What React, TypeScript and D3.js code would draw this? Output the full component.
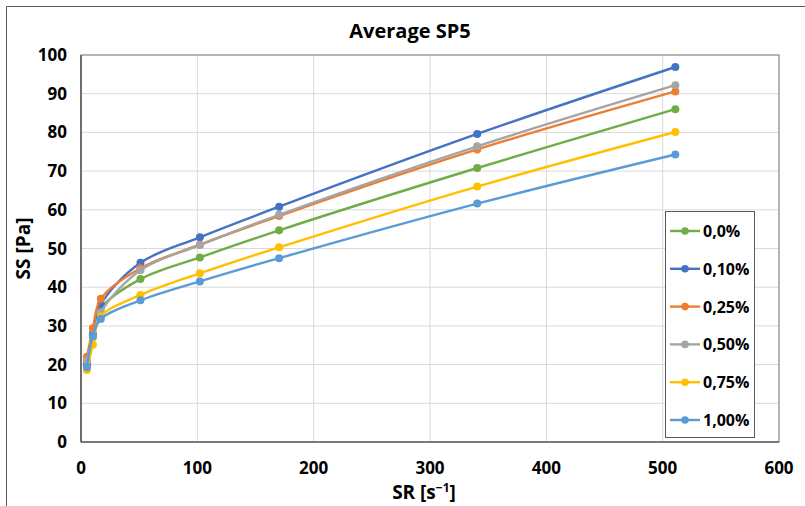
import React from "react";
import * as d3 from "d3";

// Shear rates [1/s] for the viscometer speeds
const shearRates = [5.11, 10.22, 17.03, 51.1, 102.2, 170.3, 340.6, 510.9];

const seriesNames = ["0,0%", "0,10%", "0,25%", "0,50%", "0,75%", "1,00%"];
const seriesColors = ["#70AD47", "#4472C4", "#ED7D31", "#A5A5A5", "#FFC000", "#5B9BD5"];

// Shear stress [Pa] per additive concentration
const ss000 = [20.5, 27.5, 34.5, 42.1, 47.7, 54.7, 70.8, 86.0];
const ss010 = [20.0, 28.0, 35.5, 46.3, 52.9, 60.8, 79.6, 96.9];
const ss025 = [22.0, 29.4, 37.0, 44.9, 51.0, 58.4, 75.6, 90.6];
const ss050 = [21.0, 27.0, 33.5, 44.4, 50.9, 58.7, 76.4, 92.2];
const ss075 = [18.6, 25.1, 32.4, 38.0, 43.6, 50.3, 66.0, 80.1];
const ss100 = [19.3, 27.4, 31.8, 36.6, 41.5, 47.5, 61.6, 74.3];
const seriesValues = [ss000, ss010, ss025, ss050, ss075, ss100];

const xTicks = [0, 100, 200, 300, 400, 500, 600];
const yTicks = [0, 10, 20, 30, 40, 50, 60, 70, 80, 90, 100];

const W = 805;
const H = 506;
const plot = { left: 81, right: 779, top: 55, bottom: 442 };
const font = "'Open Sans', 'Noto Sans', sans-serif";

export default function App() {
  const x = d3.scaleLinear().domain([0, 600]).range([plot.left, plot.right]);
  const y = d3.scaleLinear().domain([0, 100]).range([plot.bottom, plot.top]);
  const line = d3
    .line<[number, number]>()
    .x((d) => x(d[0]))
    .y((d) => y(d[1]))
    .curve(d3.curveCatmullRom.alpha(0.5));

  const legend = { x: 665, y: 211, w: 89, h: 226, step: 37.8 };

  return (
    <svg
      width={W}
      height={H}
      style={{ position: "absolute", left: 0, top: 0, background: "#fff" }}
      fontFamily={font}
    >
      {/* chart frame */}
      <line x1={6.5} y1={6.5} x2={W} y2={6.5} stroke="#595959" strokeWidth={1} />
      <line x1={6.5} y1={6.5} x2={6.5} y2={H} stroke="#595959" strokeWidth={1} />

      <text x={410} y={38} textAnchor="middle" fontSize={20} fontWeight="bold" fill="#000">
        Average SP5
      </text>

      {/* grid */}
      {yTicks.map((t) => (
        <line key={"gy" + t} x1={plot.left} x2={plot.right} y1={y(t)} y2={y(t)} stroke="#d9d9d9" />
      ))}
      {xTicks.map((t) => (
        <line key={"gx" + t} x1={x(t)} x2={x(t)} y1={plot.top} y2={plot.bottom} stroke="#d9d9d9" />
      ))}
      <rect
        x={plot.left}
        y={plot.top}
        width={plot.right - plot.left}
        height={plot.bottom - plot.top}
        fill="none"
        stroke="#7f7f7f"
      />
      <line x1={plot.left} x2={plot.left} y1={plot.top} y2={plot.bottom} stroke="#404040" strokeWidth={1.2} />
      <line x1={plot.left} x2={plot.right} y1={plot.bottom} y2={plot.bottom} stroke="#404040" strokeWidth={1.2} />

      {/* tick labels */}
      {yTicks.map((t) => (
        <text key={"ty" + t} x={67} y={y(t) + 6} textAnchor="end" fontSize={17} fontWeight="bold">
          {t}
        </text>
      ))}
      {xTicks.map((t) => (
        <text key={"tx" + t} x={x(t)} y={474} textAnchor="middle" fontSize={17} fontWeight="bold">
          {t}
        </text>
      ))}

      <text x={424} y={499} textAnchor="middle" fontSize={19} fontWeight="bold">
        SR [s
        <tspan dy={-7} fontSize={12}>−1</tspan>
        <tspan dy={7}>]</tspan>
      </text>
      <text
        transform={`translate(30, ${(plot.top + plot.bottom) / 2}) rotate(-90)`}
        textAnchor="middle"
        fontSize={19}
        fontWeight="bold"
      >
        SS [Pa]
      </text>

      {/* series */}
      {seriesValues.map((vals, i) => {
        const pts = shearRates.map((s, j) => [s, vals[j]] as [number, number]);
        return (
          <g key={seriesNames[i]}>
            <path d={line(pts) || ""} fill="none" stroke={seriesColors[i]} strokeWidth={2.4} />
            {pts.map((p, j) => (
              <circle key={j} cx={x(p[0])} cy={y(p[1])} r={4} fill={seriesColors[i]} />
            ))}
          </g>
        );
      })}

      {/* legend */}
      <rect x={legend.x + 0.5} y={legend.y + 0.5} width={legend.w} height={legend.h} fill="#fff" stroke="#595959" />
      {seriesNames.map((name, i) => {
        const cy = legend.y + 20 + i * legend.step;
        return (
          <g key={"lg" + name}>
            <line x1={legend.x + 5} x2={legend.x + 35} y1={cy} y2={cy} stroke={seriesColors[i]} strokeWidth={2.4} />
            <circle cx={legend.x + 20} cy={cy} r={3.8} fill={seriesColors[i]} />
            <text x={legend.x + 38} y={cy + 6} fontSize={16} fontWeight="bold">
              {name}
            </text>
          </g>
        );
      })}
    </svg>
  );
}
